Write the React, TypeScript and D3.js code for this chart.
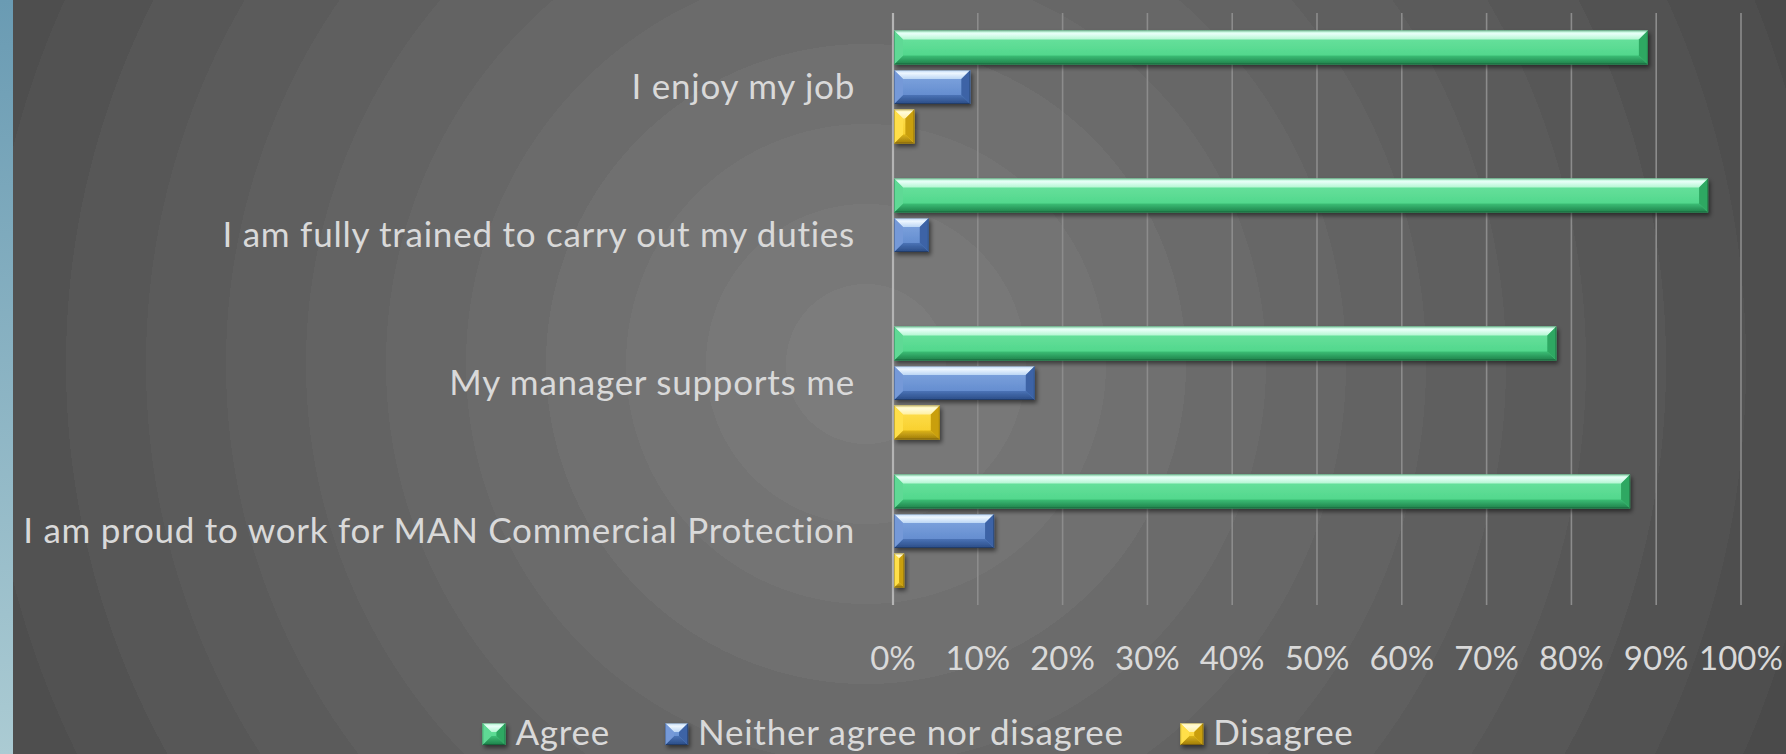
import React, { useEffect } from "react";
import * as d3 from "d3";

const categories = [
  "I enjoy my job",
  "I am fully trained to carry out my duties",
  "My manager supports me",
  "I am proud to work for MAN Commercial Protection",
];
const seriesNames = ["Agree", "Neither agree nor disagree", "Disagree"];
const agree = [0.889, 0.96, 0.781, 0.868];
const neither = [0.09, 0.041, 0.166, 0.118];
const disagree = [0.024, 0, 0.054, 0.012];
const xTicks = [0, 0.1, 0.2, 0.3, 0.4, 0.5, 0.6, 0.7, 0.8, 0.9, 1.0];

const W = 1786;
const H = 754;
const FONT = "Lato, 'Open Sans', sans-serif";
const TEXT = "#d9d9d9";
const LABEL_SIZE = 35;
const LABEL_SPACING = 0.75;

type Pal = { top: string[]; center: string[]; bottom: string[]; left: string; right: string };
const palettes: Pal[] = [
  { top: ["#a6f2c8", "#e8fff8", "#b4f6d2"], center: ["#70e4a2", "#47d385"], bottom: ["#3cbf76", "#1f7f49"], left: "#5fd995", right: "#2fa862" },
  { top: ["#b8d4f4", "#eef7ff", "#bcd6f4"], center: ["#84a9e1", "#5a84ca"], bottom: ["#4b73b6", "#2a4c86"], left: "#7499d8", right: "#3c64a6" },
  { top: ["#fff1a0", "#fffbd8", "#fff0a0"], center: ["#ffe154", "#f6cb22"], bottom: ["#dcb419", "#9d7a0b"], left: "#ffdf48", right: "#c99f0f" },
];
const seriesValues = [agree, neither, disagree];

function Bar({ x, y, w, h, s }: { x: number; y: number; w: number; h: number; s: number }) {
  if (w <= 0.5) return null;
  const b = Math.min(9, w / 2, h / 2);
  const p = (pts: number[][]) => pts.map((q) => q.join(",")).join(" ");
  const pal = palettes[s];
  return (
    <g filter="url(#shadow)">
      <rect x={x} y={y} width={w} height={h} fill={`url(#c${s})`} />
      <polygon points={p([[x, y], [x + w, y], [x + w - b, y + b], [x + b, y + b]])} fill={`url(#t${s})`} />
      <polygon points={p([[x, y + h], [x + w, y + h], [x + w - b, y + h - b], [x + b, y + h - b]])} fill={`url(#b${s})`} />
      <polygon points={p([[x, y], [x + b, y + b], [x + b, y + h - b], [x, y + h]])} fill={pal.left} />
      <polygon points={p([[x + w, y], [x + w - b, y + b], [x + w - b, y + h - b], [x + w, y + h]])} fill={pal.right} />
      <rect x={x + 0.5} y={y + 0.5} width={w - 1} height={h - 1} fill="none" stroke="rgba(0,0,0,0.22)" strokeWidth={1} />
    </g>
  );
}

export default function App() {
  useEffect(() => {
    document.body.style.margin = "0";
  }, []);

  const plotTop = 13;
  const plotBottom = 605;
  const x = d3.scaleLinear().domain([0, 1]).range([893, 1741]);
  const y0 = d3.scaleBand<string>().domain(categories).range([plotTop, plotBottom]).paddingInner(0.236).paddingOuter(0.118);
  const y1 = d3.scaleBand<number>().domain([0, 1, 2]).range([0, y0.bandwidth()]).paddingInner(0.14).paddingOuter(0);

  // radial banded background
  const cx = 866, cy = 364, R = 1040, bands = 13;
  const col = d3.interpolateRgb("#7c7c7c", "#4a4a4a");
  const stops: { o: number; c: string }[] = [];
  for (let i = 0; i < bands; i++) {
    const c = col(i / (bands - 1));
    stops.push({ o: i / bands, c });
    stops.push({ o: (i + 1) / bands, c });
  }

  // legend layout via text measurement
  let widths = [88, 430, 140];
  try {
    const ctx = document.createElement("canvas").getContext("2d");
    if (ctx) {
      ctx.font = `${LABEL_SIZE}px Lato`;
      widths = seriesNames.map((n) => ctx.measureText(n).width + n.length * LABEL_SPACING);
    }
  } catch (e) {}
  const sym = 23, symGap = 10, itemGap = 55;
  const total = widths.reduce((a, w) => a + sym + symGap + w, 0) + itemGap * (seriesNames.length - 1);
  let lx = 918 - total / 2;
  const legendItems = seriesNames.map((n, i) => {
    const item = { name: n, x: lx, i };
    lx += sym + symGap + widths[i] + itemGap;
    return item;
  });

  return (
    <svg width={W} height={H} style={{ display: "block" }} fontFamily={FONT}>
      <defs>
        <radialGradient id="bg" gradientUnits="userSpaceOnUse" cx={cx} cy={cy} r={R}>
          {stops.map((s, i) => (
            <stop key={i} offset={s.o} stopColor={s.c} />
          ))}
        </radialGradient>
        <linearGradient id="strip" x1="0" y1="0" x2="0" y2="1">
          <stop offset="0" stopColor="#6a9bb3" />
          <stop offset="1" stopColor="#abcbd3" />
        </linearGradient>
        {palettes.map((pal, s) => (
          <React.Fragment key={s}>
            <linearGradient id={`t${s}`} x1="0" y1="0" x2="0" y2="1">
              <stop offset="0" stopColor={pal.top[0]} />
              <stop offset="0.35" stopColor={pal.top[1]} />
              <stop offset="1" stopColor={pal.top[2]} />
            </linearGradient>
            <linearGradient id={`c${s}`} x1="0" y1="0" x2="0" y2="1">
              <stop offset="0" stopColor={pal.center[0]} />
              <stop offset="1" stopColor={pal.center[1]} />
            </linearGradient>
            <linearGradient id={`b${s}`} x1="0" y1="0" x2="0" y2="1">
              <stop offset="0" stopColor={pal.bottom[0]} />
              <stop offset="1" stopColor={pal.bottom[1]} />
            </linearGradient>
          </React.Fragment>
        ))}
        <filter id="shadow" x="-50%" y="-50%" width="200%" height="200%">
          <feDropShadow dx="2" dy="3" stdDeviation="2" floodColor="#000" floodOpacity="0.5" />
        </filter>
      </defs>

      <rect x={0} y={0} width={13} height={H} fill="url(#strip)" />
      <rect x={13} y={0} width={W - 13} height={H} fill="url(#bg)" />

      {/* gridlines */}
      {xTicks.map((t) => (
        <line
          key={t}
          x1={x(t)}
          x2={x(t)}
          y1={plotTop}
          y2={plotBottom}
          stroke={t === 0 ? "#b4b4b4" : "#8c8c8c"}
          strokeWidth={t === 0 ? 2.2 : 1.6}
        />
      ))}

      {/* bars */}
      {categories.map((c, ci) => (
        <g key={c}>
          {seriesValues.map((vals, s) => (
            <Bar key={s} s={s} x={x(0) + 1} y={(y0(c) as number) + (y1(s) as number)} w={x(vals[ci]) - x(0)} h={y1.bandwidth()} />
          ))}
        </g>
      ))}

      {/* category labels */}
      {categories.map((c) => (
        <text
          key={c}
          x={855}
          y={(y0(c) as number) + y0.bandwidth() / 2 + 12}
          textAnchor="end"
          fontSize={LABEL_SIZE}
          letterSpacing={LABEL_SPACING}
          fill={TEXT}
        >
          {c}
        </text>
      ))}

      {/* tick labels */}
      {xTicks.map((t) => (
        <text key={t} x={x(t)} y={670} textAnchor="middle" fontSize={33} fill={TEXT}>
          {d3.format(".0%")(t)}
        </text>
      ))}

      {/* legend */}
      {legendItems.map((it) => (
        <g key={it.name}>
          <Bar x={it.x} y={723} w={sym} h={22} s={it.i} />
          <text x={it.x + sym + symGap} y={745} fontSize={LABEL_SIZE} letterSpacing={LABEL_SPACING} fill={TEXT}>
            {it.name}
          </text>
        </g>
      ))}
    </svg>
  );
}
